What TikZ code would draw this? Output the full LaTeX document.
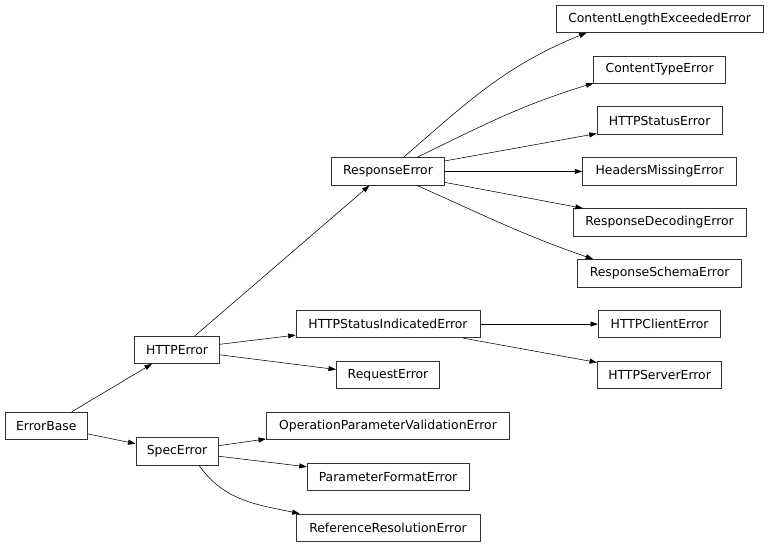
\documentclass[tikz,border=0pt]{standalone}
\usepackage{fontspec}
\setmainfont{DejaVu Sans}
\usetikzlibrary{arrows.meta}
\begin{document}
\begin{tikzpicture}[x=1pt,y=-1pt,
  cls/.style={draw=black!80, line width=0.7pt, minimum height=27.4pt, inner sep=0pt,
    font=\fontsize{12.4}{14}\selectfont},
  inh/.style={-{Triangle[length=7.5pt,width=5pt]}, line width=0.55pt, black}]
\useasboundingbox (0,0) rectangle (768,547);
% rank 0
\node[cls, minimum width=82.7pt] (EB) at (46.3,425.9) {ErrorBase};
% rank 1
\node[cls, minimum width=85pt] (HE) at (177,349.8) {HTTPError};
\node[cls, minimum width=82.3pt] (SE) at (177,451.2) {SpecError};
% rank 2
\node[cls, minimum width=113.3pt] (RE) at (388,171.4) {ResponseError};
\node[cls, minimum width=184pt] (HSIE) at (388,324.1) {HTTPStatusIndicatedError};
\node[cls, minimum width=103.3pt] (ReqE) at (388,375) {RequestError};
\node[cls, minimum width=243.3pt] (OPVE) at (388,425.9) {OperationParameterValidationError};
\node[cls, minimum width=161.7pt] (PFE) at (388,476.8) {ParameterFormatError};
\node[cls, minimum width=184pt] (RRE) at (388,527.7) {ReferenceResolutionError};
% rank 3
\node[cls, minimum width=207pt] (CLEE) at (659.6,18.7) {ContentLengthExceededError};
\node[cls, minimum width=131.7pt] (CTE) at (659.6,69.6) {ContentTypeError};
\node[cls, minimum width=125pt] (HSE) at (659.6,120.5) {HTTPStatusError};
\node[cls, minimum width=154pt] (HME) at (659.6,171.4) {HeadersMissingError};
\node[cls, minimum width=172.7pt] (RDE) at (659.6,222.3) {ResponseDecodingError};
\node[cls, minimum width=164pt] (RSE) at (659.6,273.2) {ResponseSchemaError};
\node[cls, minimum width=122.4pt] (HCE) at (659.6,324.1) {HTTPClientError};
\node[cls, minimum width=124.4pt] (HSvE) at (659.6,375) {HTTPServerError};
% edges
\draw[inh] ([xshift=25.4pt]EB.north) -- ([xshift=-25pt]HE.south);
\draw[inh] ([yshift=-8pt]EB.east) -- ([yshift=7.5pt]SE.west);
\draw[inh] ([xshift=18pt]HE.north) -- ([xshift=-18.5pt]RE.south);
\draw[inh] ([yshift=5.5pt]HE.east) -- ([yshift=-11pt]HSIE.west);
\draw[inh] ([yshift=-5pt]HE.east) -- ([yshift=5.5pt]ReqE.west);
\draw[inh] ([yshift=5.5pt]SE.east) -- ([yshift=1pt]OPVE.south west);
\draw[inh] ([yshift=-5pt]SE.east) -- ([yshift=10pt]PFE.west);
\draw[inh] ([xshift=22pt]SE.south) to[out=-55,in=168] ([xshift=4pt]RRE.north west);
\draw[inh] (HSIE.east) -- (HCE.west);
\draw[inh] ([xshift=75.3pt]HSIE.south) -- ([yshift=-1.5pt]HSvE.north west);
\draw[inh] ([xshift=15.5pt]RE.north) to[out=41,in=202] ([xshift=-73pt]CLEE.south);
\draw[inh] ([xshift=29pt]RE.north) to[out=26,in=197] ([yshift=0.5pt]CTE.south west);
\draw[inh] ([yshift=10.5pt]RE.east) -- ([yshift=1pt]HSE.south west);
\draw[inh] (RE.east) -- (HME.west);
\draw[inh] ([yshift=-11pt]RE.east) -- ([xshift=10pt]RDE.north west);
\draw[inh] ([xshift=29pt]RE.south) to[out=-24,in=161] ([xshift=16pt]RSE.north west);
\end{tikzpicture}
\end{document}
